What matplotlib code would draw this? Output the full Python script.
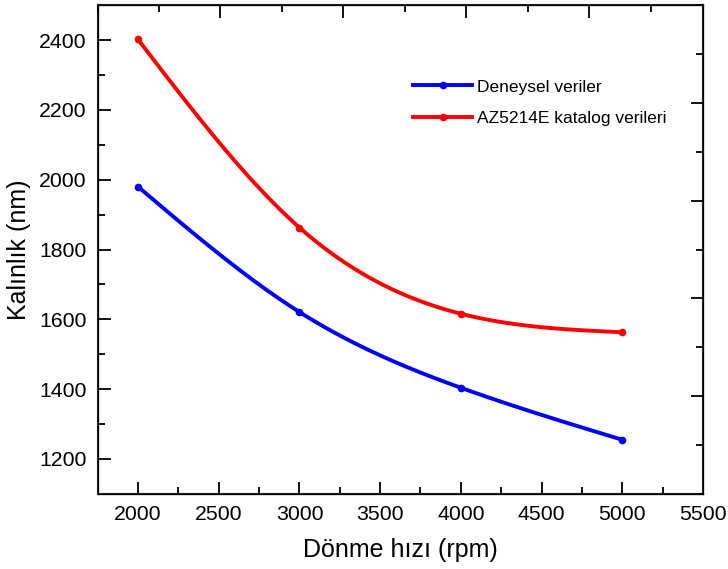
import numpy as np
import matplotlib.pyplot as plt
from matplotlib.ticker import MultipleLocator, NullFormatter

plt.rcParams['font.family'] = ['Liberation Sans', 'DejaVu Sans']

# dönme hızı (rpm) ve kalınlık (nm)
hiz = [2000, 3000, 4000, 5000]
deneysel = [1980, 1621, 1404, 1255]
katalog = [2402, 1863, 1616, 1563]


def spline(x, y, n=200):
    # doğal kübik spline, noktalar arasında düzgün çizgi için
    x = np.asarray(x, float)
    y = np.asarray(y, float)
    k = len(x)
    h = np.diff(x)
    A = np.zeros((k, k))
    b = np.zeros(k)
    A[0, 0] = A[-1, -1] = 1
    for i in range(1, k - 1):
        A[i, i - 1] = h[i - 1]
        A[i, i] = 2 * (h[i - 1] + h[i])
        A[i, i + 1] = h[i]
        b[i] = 6 * ((y[i + 1] - y[i]) / h[i] - (y[i] - y[i - 1]) / h[i - 1])
    m = np.linalg.solve(A, b)
    xs = np.linspace(x[0], x[-1], n)
    j = np.clip(np.searchsorted(x, xs) - 1, 0, k - 2)
    t0 = x[j + 1] - xs
    t1 = xs - x[j]
    hj = h[j]
    ys = (m[j] * t0**3 + m[j + 1] * t1**3) / (6 * hj) \
        + (y[j] / hj - m[j] * hj / 6) * t0 + (y[j + 1] / hj - m[j + 1] * hj / 6) * t1
    return xs, ys


fig = plt.figure(figsize=(7.28, 5.69), dpi=100)
ax = fig.add_axes([0.134, 0.132, 0.8317, 0.859])

for yv, renk, etiket in [(deneysel, '#0000FF', 'Deneysel veriler'),
                         (katalog, '#FF0000', 'AZ5214E katalog verileri')]:
    xs, ys = spline(hiz, yv)
    ax.plot(xs, ys, color=renk, lw=2.8, solid_capstyle='round')
    ax.plot(hiz, yv, 'o', color=renk, ms=4.5)
    ax.plot([], [], color=renk, lw=2.8, marker='o', ms=4.5, markevery=[1],
            label=etiket)

ax.set_xlim(1750, 5500)
ax.set_ylim(1100, 2500)
ax.xaxis.set_major_locator(MultipleLocator(500))
ax.xaxis.set_minor_locator(MultipleLocator(250))
ax.yaxis.set_major_locator(MultipleLocator(200))
ax.yaxis.set_minor_locator(MultipleLocator(100))
ax.tick_params(which='both', direction='in', labelsize=15.3, width=1.3,
               top=False, right=False, pad=8)
ax.tick_params(which='major', length=9)
ax.tick_params(which='minor', length=5)
for s in ax.spines.values():
    s.set_linewidth(1.5)
    s.set_color('#222222')

# üst ve sağ eksen işaretleri
ust = ax.twiny()
ust.set_xlim(0, 0.985)
sag = ax.twinx()
sag.set_ylim(0, 1)
for e, eksen in [(ust, ust.xaxis), (sag, sag.yaxis)]:
    eksen.set_major_locator(MultipleLocator(0.2))
    eksen.set_minor_locator(MultipleLocator(0.1))
    eksen.set_major_formatter(NullFormatter())
    e.tick_params(which='both', direction='in', width=1.3)
    e.tick_params(which='major', length=9)
    e.tick_params(which='minor', length=5)
sag.set_yticks([0.2, 0.4, 0.6, 0.8])
ust.set_xticks([0.2, 0.4, 0.6, 0.8])

ax.set_xlabel('Dönme hızı (rpm)', fontsize=18, labelpad=10)
ax.set_ylabel('Kalınlık (nm)', fontsize=18, labelpad=6)

ax.legend(loc='upper left', bbox_to_anchor=(0.521, 0.848), frameon=False,
          fontsize=12.5, handlelength=3.4, handletextpad=0.3, labelspacing=0.95,
          borderpad=0, borderaxespad=0)

fig.savefig('out.png', dpi=100)
